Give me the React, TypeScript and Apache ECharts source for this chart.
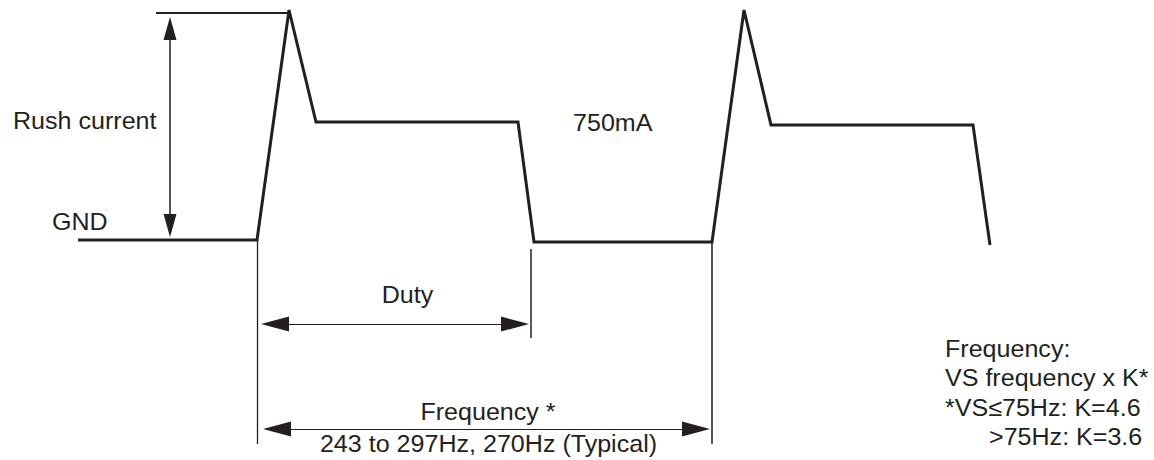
import React, { useEffect, useRef } from "react";
import * as echarts from "echarts";

// Waveform (time axis in px-like units, level axis inverted: 0 at top)
const waveTime = [78, 257, 289, 316, 518, 534, 712, 744, 771, 973, 990];
const waveLevel = [240, 240, 10, 122, 122, 242, 242, 10, 125, 125, 245];

// Reference lines (no arrows): [x1, y1, x2, y2, width]
const refLines: number[][] = [
  [156, 13, 289, 13, 2],
  [257, 240, 257, 444, 1.3],
  [531, 249, 531, 338, 1.5],
  [712, 241, 712, 444, 1.5],
];

// Dimension arrows (tip to tip): [x1, y1, x2, y2, width, headWidth, headLength]
const arrows: number[][] = [
  [170, 17, 170, 237, 1.5, 13, 23],
  [261, 324, 529, 324, 1, 15, 28],
  [263, 429, 710, 429, 1, 15, 28],
];

// Labels: [text, x, y, align]
const labels: [string, number, number, string][] = [
  ["Rush current", 13, 120.5, "left"],
  ["GND", 52, 222, "left"],
  ["750mA", 573, 123, "left"],
  ["Duty", 407.5, 295, "center"],
  ["Frequency *", 488, 412, "center"],
  ["243 to 297Hz, 270Hz (Typical)", 488.5, 443.5, "center"],
  ["Frequency:", 945, 348.5, "left"],
  ["VS frequency x K*", 945, 378, "left"],
  ["*VS≤75Hz: K=4.6", 945, 407.5, "left"],
  [">75Hz: K=3.6", 989, 437, "left"],
];

const INK = "#231f20";
const FONT = "'Liberation Sans', Arial, Helvetica, sans-serif";

export default function App() {
  const ref = useRef<HTMLDivElement>(null);
  useEffect(() => {
    if (!ref.current) return;
    const chart = echarts.init(ref.current, null, { renderer: "svg" });
    const wave = waveTime.map((t, i) => [t, waveLevel[i]]);
    const series: any[] = [
      {
        type: "line",
        data: wave,
        symbol: "none",
        lineStyle: { color: INK, width: 3, join: "miter" },
        silent: true,
        z: 3,
      },
      {
        type: "line",
        data: [],
        symbol: "none",
        silent: true,
        markLine: {
          silent: true,
          symbol: ["none", "none"],
          label: { show: false },
          data: refLines.map((l) => [
            { coord: [l[0], l[1]], lineStyle: { color: INK, width: l[4], type: "solid" } },
            { coord: [l[2], l[3]] },
          ]),
        },
      },
      ...arrows.map((a) => {
        // symbol is centred on the end point: pull it in by half its length
        const dx = a[2] - a[0];
        const dy = a[3] - a[1];
        const len = Math.hypot(dx, dy);
        const ux = dx / len;
        const uy = dy / len;
        const h = a[6] / 2;
        return {
          type: "line",
          data: [],
          symbol: "none",
          silent: true,
          markLine: {
            silent: true,
            symbol: ["triangle", "triangle"],
            symbolSize: [a[5], a[6]],
            label: { show: false },
            lineStyle: { color: INK, width: a[4], type: "solid" },
            itemStyle: { color: INK },
            data: [
              [
                { coord: [a[0] + ux * h, a[1] + uy * h] },
                { coord: [a[2] - ux * h, a[3] - uy * h] },
              ],
            ],
          },
        };
      }),
    ];
    chart.setOption({
      animation: false,
      backgroundColor: "#ffffff",
      grid: { left: 0, right: 0, top: 0, bottom: 0 },
      xAxis: { type: "value", min: 0, max: 1154, show: false },
      yAxis: { type: "value", min: 0, max: 460, inverse: true, show: false },
      series,
      graphic: labels.map(([text, x, y, align]) => ({
        type: "text",
        x,
        y,
        scaleX: 1.045,
        silent: true,
        style: {
          text,
          fill: INK,
          font: `24px ${FONT}`,
          fontSize: 24,
          fontFamily: FONT,
          textAlign: align,
          align,
          textVerticalAlign: "middle",
          verticalAlign: "middle",
        },
      })),
    });
    return () => chart.dispose();
  }, []);
  return (
    <div
      ref={ref}
      style={{ position: "fixed", left: 0, top: 0, width: 1154, height: 460, background: "#fff" }}
    />
  );
}
